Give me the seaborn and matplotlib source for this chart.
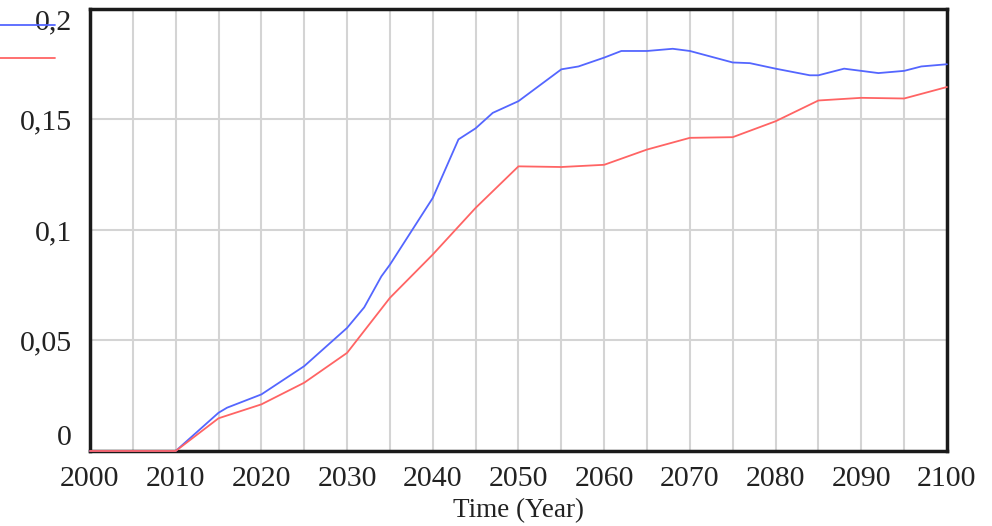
import matplotlib
matplotlib.use('Agg')
import matplotlib.pyplot as plt
from matplotlib.ticker import FuncFormatter, MultipleLocator, FixedLocator
import seaborn as sns
import pandas as pd

# values
years_blue = [2000, 2010, 2015, 2016, 2020, 2025, 2030, 2032, 2034, 2035, 2040, 2043, 2045,
              2047, 2050, 2055, 2057, 2060, 2062, 2065, 2068, 2070, 2075, 2077, 2080,
              2084, 2085, 2088, 2090, 2092, 2095, 2097, 2100]
blue = [0, 0, 0.0173, 0.0196, 0.0256, 0.0384, 0.0557, 0.065, 0.079, 0.0843, 0.1145, 0.141,
        0.146, 0.153, 0.1583, 0.1727, 0.174, 0.178, 0.181, 0.181, 0.182, 0.181, 0.1758,
        0.1755, 0.173, 0.170, 0.170, 0.173, 0.172, 0.171, 0.172, 0.174, 0.175]

years_red = [2000, 2010, 2015, 2020, 2025, 2030, 2035, 2040, 2045, 2050, 2055, 2060, 2065,
             2070, 2075, 2080, 2085, 2090, 2095, 2100]
red = [0, 0, 0.0148, 0.0211, 0.0309, 0.0444, 0.0693, 0.0889, 0.110, 0.1288, 0.1285, 0.1295,
       0.1364, 0.1417, 0.142, 0.1492, 0.1586, 0.1598, 0.1595, 0.1647]

yticks = [0, 0.05, 0.1, 0.15, 0.2]

df_blue = pd.DataFrame({'year': years_blue, 'value': blue})
df_red = pd.DataFrame({'year': years_red, 'value': red})

sns.set_style('white')
plt.rcParams['font.family'] = ['Liberation Serif', 'DejaVu Serif']

fig = plt.figure(figsize=(9.92, 5.26), dpi=100)
ax = fig.add_axes([0.0907, 0.1426, 0.8639, 0.8403])

sns.lineplot(data=df_blue, x='year', y='value', ax=ax, color='#5466ff', lw=1.3)
sns.lineplot(data=df_red, x='year', y='value', ax=ax, color='#ff6464', lw=1.3)
for ln in ax.get_lines():
    ln.set_clip_on(False)
    ln.set_zorder(3)

ax.set_xlim(2000, 2100)
ax.set_ylim(0, 0.2)
ax.xaxis.set_major_locator(MultipleLocator(10))
ax.xaxis.set_minor_locator(MultipleLocator(5))
ax.yaxis.set_major_locator(FixedLocator(yticks))
ax.grid(True, which='both', axis='x', color='#d4d4d4', lw=1.5)
ax.grid(True, which='major', axis='y', color='#d4d4d4', lw=1.5)
ax.set_axisbelow(True)

ax.yaxis.set_major_formatter(FuncFormatter(lambda v, p: f'{v:g}'.replace('.', ',')))
ax.tick_params(axis='both', which='both', length=0, labelsize=21.5, colors='#222222')
ax.tick_params(axis='y', pad=13)
ax.tick_params(axis='x', pad=11)
fig.canvas.draw()
ticks = ax.yaxis.get_major_ticks()
ticks[0].label1.set_va('bottom')
ticks[-1].label1.set_va('top')

ax.set_xlabel('Time (Year)', fontsize=19.5, labelpad=4, color='#222222')
ax.set_ylabel('')

for s in ax.spines.values():
    s.set_color('#1a1a1a')
    s.set_linewidth(2.5)
    s.set_zorder(2.5)

lines = ax.get_lines()
fig.legend(lines[:2], [' ', ' '], loc='upper left', bbox_to_anchor=(0, 0.966),
           frameon=False, borderpad=0, borderaxespad=0, handlelength=2.83,
           handletextpad=0, labelspacing=0.81, fontsize=14)

fig.savefig('out.png', dpi=100)
